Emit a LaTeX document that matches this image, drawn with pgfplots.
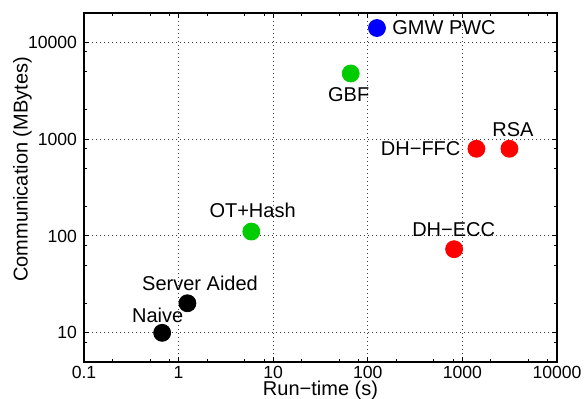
\documentclass[border=0pt]{standalone}
\usepackage{fontspec}
\setmainfont{Liberation Sans}
\usepackage{pgfplots}
\pgfplotsset{compat=1.18}
\definecolor{mgreen}{RGB}{0,204,0}
\tikzset{lbl/.style={font=\fontsize{10bp}{12bp}\selectfont, inner sep=0pt}}
\begin{document}
\begin{tikzpicture}
\begin{axis}[name=ax, xmode=log, ymode=log, scale only axis, width=236.5bp, height=174.5bp,
 xmin=0.1, xmax=10000, ymin=5, ymax=20000,
 xtick={0.1,1,10,100,1000,10000}, xticklabels={0.1,1,10,100,1000,10000},
 ytick={10,100,1000,10000}, yticklabels={10,100,1000,10000},
 minor xtick={0.2,0.5,0.8,2,5,8,20,50,80,200,500,800,2000,5000,8000},
 minor ytick={5,8,20,50,80,200,500,800,2000,5000,8000,20000},
 tick align=inside, major tick length=2.5bp, minor tick length=1.5bp,
 axis line style={line width=0.6bp}, tick style={black, line width=0.5bp},
 xmajorgrids, ymajorgrids,
 major grid style={black!75, line width=0.5bp, dash pattern=on 0.6bp off 1.4bp},
 ticklabel style={font=\fontsize{8.8bp}{10bp}\selectfont},
 xticklabel style={inner sep=0pt, yshift=-2.1bp},
 label style={font=\fontsize{10bp}{12bp}\selectfont},
 xlabel={Run−time (s)}, ylabel={Communication (MBytes)},
 xlabel style={at={(axis description cs:0.5,-0.0815)}, anchor=center, inner sep=0pt},
 ylabel style={at={(axis description cs:-0.130,0.552)}, anchor=center},
 clip=false,
 /pgf/number format/assume math mode=true,
]
\addplot[only marks, mark=*, mark size=4.25bp, black] coordinates {(0.67,10) (1.24,20.2)};
\addplot[only marks, mark=*, mark size=4.25bp, mgreen] coordinates {(5.87,111) (66,4750)};
\addplot[only marks, mark=*, mark size=4.25bp, blue] coordinates {(125,14000)};
\addplot[only marks, mark=*, mark size=4.25bp, red] coordinates {(817,73) (1406,794) (3140,794)};
\node[lbl, anchor=west, xshift=7.5bp] at (axis cs:125,14000) {GMW PWC};
\node[lbl, anchor=north, xshift=-1bp, yshift=-6.85bp] at (axis cs:66,4750) {GBF};
\node[lbl, anchor=south, xshift=0.65bp, yshift=6.7bp] at (axis cs:5.87,111) {OT+Hash};
\node[lbl, anchor=south, xshift=6.3bp, yshift=6.15bp] at (axis cs:1.24,20.2) {Server Aided};
\node[lbl, anchor=south, xshift=-2.25bp, yshift=5bp] at (axis cs:0.67,10) {Naive};
\node[lbl, anchor=south, xshift=-0.2bp, yshift=6bp] at (axis cs:817,73) {DH−ECC};
\node[lbl, anchor=east, xshift=-7.8bp] at (axis cs:1406,794) {DH−FFC};
\node[lbl, anchor=south, xshift=1.75bp, yshift=5.85bp] at (axis cs:3140,794) {RSA};
\end{axis}
\pgfresetboundingbox
\path ([shift={(-42bp,-18.5bp)}]ax.south west) rectangle ([shift={(15.5bp,6.5bp)}]ax.north east);
\end{tikzpicture}
\end{document}
